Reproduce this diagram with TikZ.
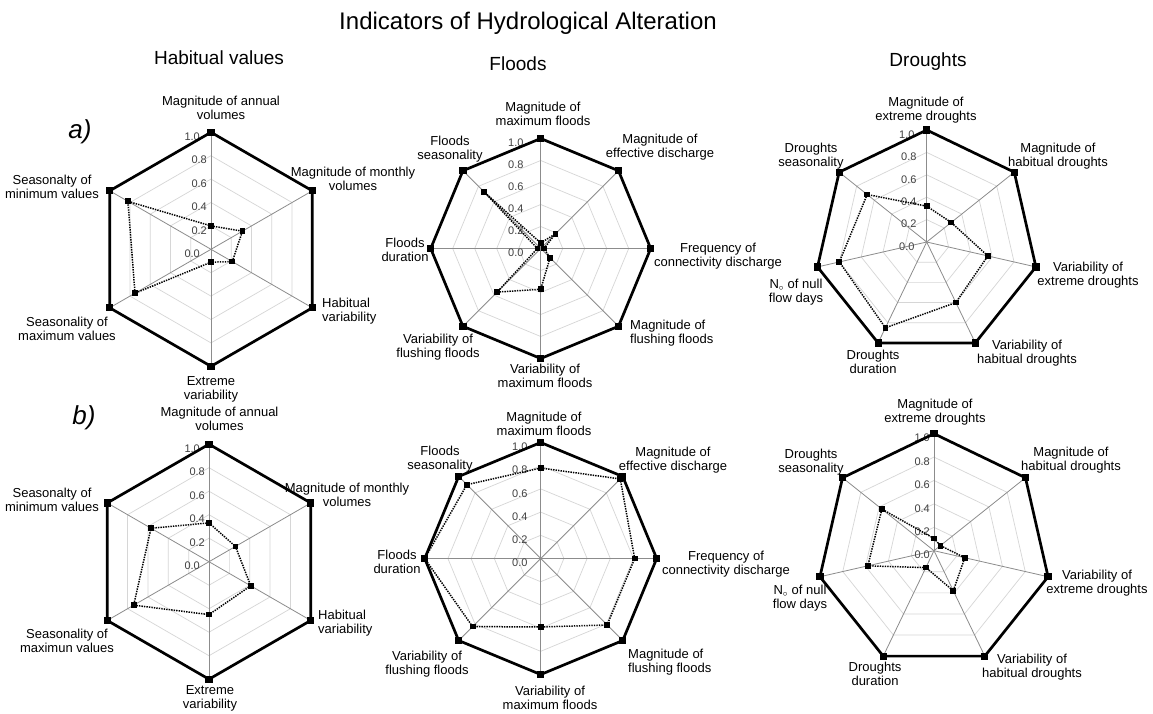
\documentclass[tikz,border=0pt]{standalone}
\usepackage{fontspec}
\setmainfont{Liberation Sans}
\newcommand\radarchart[8]{%
  % #1 prefix, #2 cx, #3 cy, #4 radius, #5 number of axes, #6 data, #7 scale offset, #8 end scale offset
  \foreach \k in {0.2,0.4,0.6,0.8}{%
    \draw[gridline] ({#2},{#3-#4*\k}) \foreach \i in {1,...,#5}{ -- ({#2+#4*\k*cos(90-360*\i/#5)},{#3-#4*\k*sin(90-360*\i/#5)}) } -- cycle;
  }%
  \coordinate (#1c) at (#2,#3);
  \foreach \i in {1,...,#5}{%
    \coordinate (#1v\i) at ({#2+#4*cos(90-360*(\i-1)/#5)},{#3-#4*sin(90-360*(\i-1)/#5)});
  }%
  \foreach \i in {1,...,#5}{\draw[axisline] (#1c) -- (#1v\i);}%
  \foreach \k/\t [count=\j] in {0.2/0.2,0.4/0.4,0.6/0.6,0.8/0.8}{%
    \node[scalelab] (#1s\j) at ({#2-#7},{#3-#4*\k}) {\t};
  }%
  \node[scalelab] (#1s0) at ({#2-#8},{#3}) {0.0};
  \node[scalelab] (#1s5) at ({#2-#8},{#3-#4}) {1.0};
  \foreach \v [count=\i] in {#6}{%
    \coordinate (#1d\i) at ({#2+#4*\v*cos(90-360*(\i-1)/#5)},{#3-#4*\v*sin(90-360*(\i-1)/#5)});
  }%
  \draw[dataline] (#1d1) \foreach \i in {2,...,#5}{ -- (#1d\i)} -- cycle;
  \draw[outerline] (#1v1) \foreach \i in {2,...,#5}{ -- (#1v\i)} -- cycle;
  \foreach \i in {1,...,#5}{%
    \fill (#1v\i) +(-3.6,-3.6) rectangle +(3.6,3.6);
    \fill (#1d\i) +(-2.9,-2.9) rectangle +(2.9,2.9);
  }%
}
\begin{document}
\begin{tikzpicture}[x=1pt,y=-1pt,
  gridline/.style={draw=black!16, line width=0.7pt},
  axisline/.style={draw=black!45, line width=0.8pt},
  outerline/.style={draw=black, line width=2.7pt, line join=miter},
  dataline/.style={draw=black, line width=1.5pt, dash pattern=on 1.4pt off 1.1pt},
  lab/.style={font=\fontsize{13}{14}\selectfont, align=center, inner sep=0pt},
  labl/.style={lab, align=left, anchor=west},
  scalelab/.style={font=\fontsize{11}{12}\selectfont, text=black!75, anchor=east, inner sep=0pt, yshift=-4.5pt},
  headtitle/.style={font=\fontsize{24}{28}\selectfont, anchor=base, inner sep=0pt},
  subtitle/.style={font=\fontsize{19}{22}\selectfont, anchor=base, inner sep=0pt},
  panel/.style={font=\fontsize{26}{30}\selectfont\itshape, inner sep=0pt}]
\fill[white] (0,0) rectangle (1153,713);
\path[use as bounding box] (0,0) rectangle (1153,713);

% titles
\node[headtitle] (title) at (528,29) {Indicators of Hydrological Alteration};
\node[subtitle] (t1) at (219,64) {Habitual values};
\node[subtitle] (t2) at (518,70) {Floods};
\node[subtitle] (t3) at (928,66) {Droughts};
\node[panel] (pa) at (80,132) {a)};
\node[panel] (pb) at (84,418) {b)};

% charts
\radarchart{A}{211}{249.3}{117}{6}{0.2,0.31,0.21,0.11,0.75,0.82}{4}{11}
\radarchart{B}{209}{561.7}{117.5}{6}{0.33,0.26,0.41,0.45,0.74,0.57}{4}{9}
\radarchart{C}{540.7}{248.5}{110}{8}{0.05,0.19,0.03,0.12,0.37,0.56,0.03,0.73}{17}{17}
\radarchart{D}{540.7}{558.5}{116}{8}{0.78,0.97,0.81,0.81,0.59,0.83,1.0,0.9}{13}{13}
\radarchart{E}{926.7}{242}{112}{7}{0.32,0.28,0.56,0.6,0.85,0.8,0.68}{10}{12}
\radarchart{F}{934}{550.7}{117}{7}{0.105,0.07,0.27,0.38,0.16,0.58,0.57}{4}{4}

% labels hexagon a
\node[lab] (la1) at (221,108) {Magnitude of annual\\volumes};
\node[lab] (la2) at (353,179) {Magnitude of monthly\\volumes};
\node[labl] (la3) at (322,311) {Habitual\\variability};
\node[lab] (la4) at (211,389) {Extreme\\variability};
\node[lab] (la5) at (67,329) {Seasonality of\\maximum values};
\node[lab] (la6) at (52,187) {Seasonalty of\\minimum values};
% labels hexagon b
\node[lab] (lb1) at (219.5,419) {Magnitude of annual\\volumes};
\node[lab] (lb2) at (347,495) {Magnitude of monthly\\volumes};
\node[labl] (lb3) at (318,623) {Habitual\\variability};
\node[lab] (lb4) at (210,698) {Extreme\\variability};
\node[lab] (lb5) at (67,641) {Seasonality of\\maximun values};
\node[lab] (lb6) at (52,500) {Seasonalty of\\minimum values};
% labels octagon a
\node[lab] (lc1) at (543,114) {Magnitude of\\maximum floods};
\node[lab] (lc2) at (660,147) {Magnitude of\\effective discharge};
\node[lab] (lc3) at (718,256) {Frequency of\\connectivity discharge};
\node[labl] (lc4) at (630,333) {Magnitude of\\flushing floods};
\node[lab] (lc5) at (545,376) {Variability of\\maximum floods};
\node[lab] (lc6) at (438,347) {Variability of\\flushing floods};
\node[lab] (lc7) at (405,250) {Floods\\duration};
\node[lab] (lc8) at (450,149) {Floods\\seasonality};
% labels octagon b
\node[lab] (ld1) at (544,424) {Magnitude of\\maximum floods};
\node[lab] (ld2) at (673,460) {Magnitude of\\effective discharge};
\node[lab] (ld3) at (726,564) {Frequency of\\connectivity discharge};
\node[labl] (ld4) at (628,662) {Magnitude of\\flushing floods};
\node[lab] (ld5) at (550,698) {Variability of\\maximum floods};
\node[lab] (ld6) at (427,664) {Variability of\\flushing floods};
\node[lab] (ld7) at (397,562) {Floods\\duration};
\node[lab] (ld8) at (440,459) {Floods\\seasonality};
% labels heptagon a
\node[lab] (le1) at (926,110) {Magnitude of\\extreme droughts};
\node[lab] (le2) at (1058,156) {Magnitude of\\habitual droughts};
\node[lab] (le3) at (1088,275) {Variability of\\extreme droughts};
\node[lab] (le4) at (1027,353) {Variability of\\habitual droughts};
\node[lab] (le5) at (873,362) {Droughts\\duration};
\node[lab] (le6) at (796,292) {N$_{\circ}$ of null\\flow days};
\node[lab] (le7) at (811,156) {Droughts\\seasonality};
% labels heptagon b
\node[lab] (lf1) at (935,412) {Magnitude of\\extreme droughts};
\node[lab] (lf2) at (1071,460) {Magnitude of\\habitual droughts};
\node[lab] (lf3) at (1097,583) {Variability of\\extreme droughts};
\node[lab] (lf4) at (1032,667) {Variability of\\habitual droughts};
\node[lab] (lf5) at (875,674) {Droughts\\duration};
\node[lab] (lf6) at (800,598) {N$_{\circ}$ of null\\flow days};
\node[lab] (lf7) at (811,462) {Droughts\\seasonality};
\end{tikzpicture}
\end{document}
